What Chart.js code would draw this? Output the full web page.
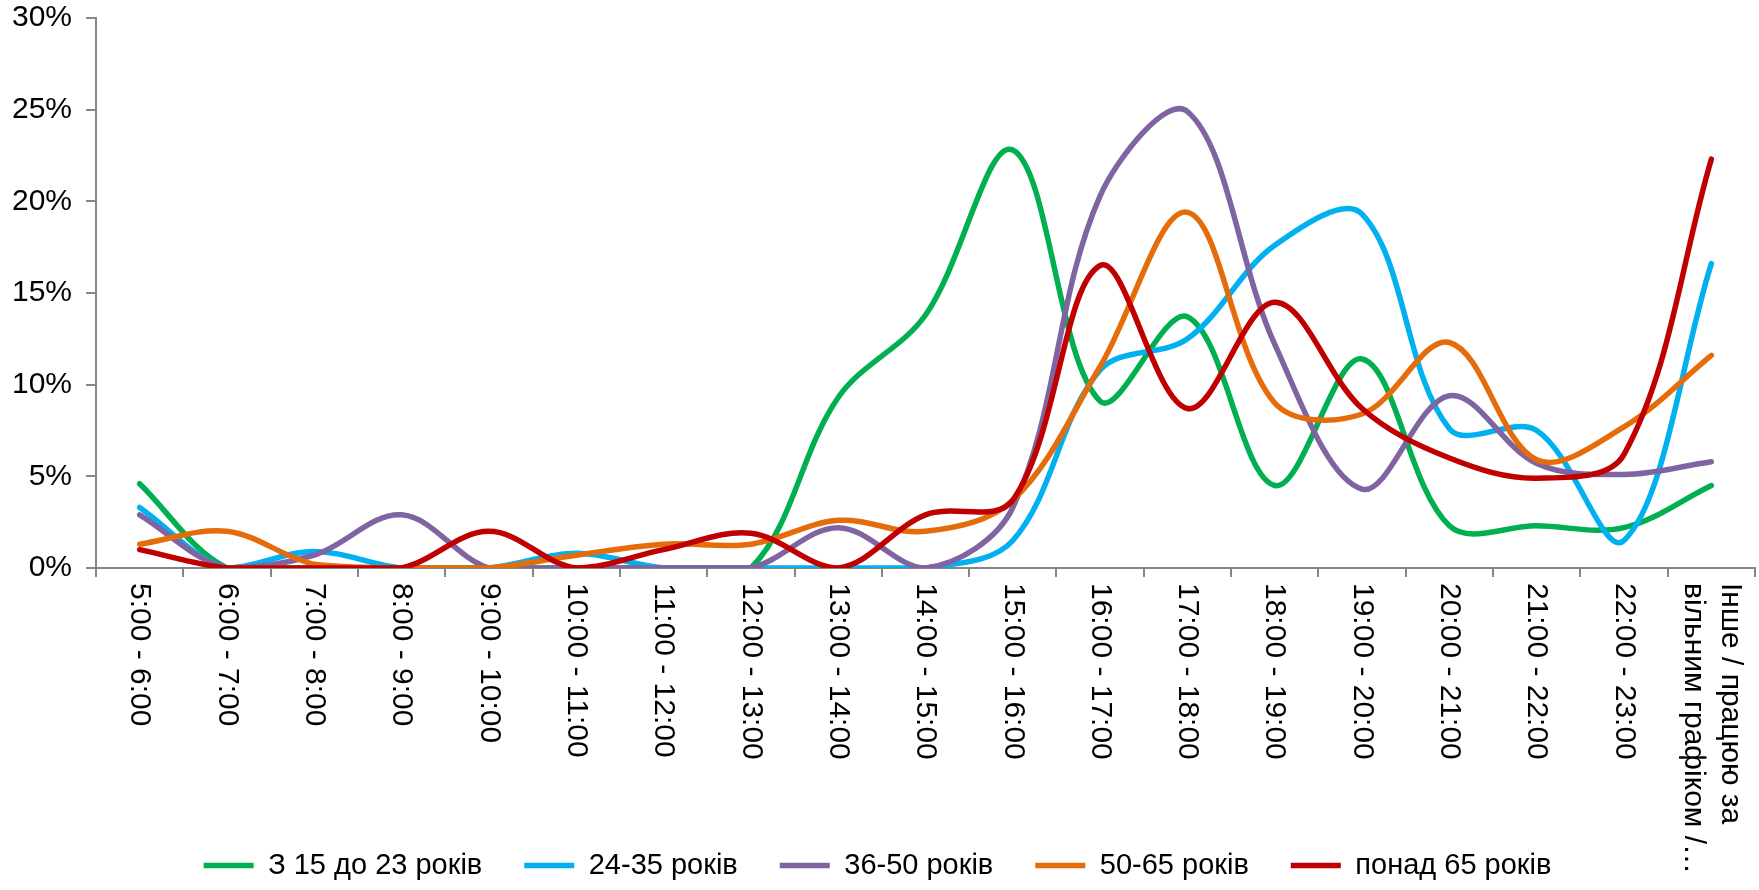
<!DOCTYPE html>
<html>
<head>
<meta charset="utf-8">
<script src="https://cdn.jsdelivr.net/npm/chart.js@4.4.0/dist/chart.umd.min.js"></script>
<style>
  html, body { margin: 0; padding: 0; background: #fff; }
</style>
</head>
<body>
<canvas id="myChart" width="1759" height="890"></canvas>
<script>
const categories = [
    '5:00 - 6:00', '6:00 - 7:00', '7:00 - 8:00', '8:00 - 9:00', '9:00 - 10:00',
    '10:00 - 11:00', '11:00 - 12:00', '12:00 - 13:00', '13:00 - 14:00', '14:00 - 15:00',
    '15:00 - 16:00', '16:00 - 17:00', '17:00 - 18:00', '18:00 - 19:00', '19:00 - 20:00',
    '20:00 - 21:00', '21:00 - 22:00', '22:00 - 23:00',
    ['Інше / працюю за', 'вільним графіком /…']
];
const seriesNames = ['З 15 до 23 років', '24-35 років', '36-50 років', '50-65 років', 'понад 65 років'];
const seriesColors = ['#00B050', '#00B0F0', '#8064A2', '#E46C0A', '#C00000'];

// values in %
const age15to23 = [4.6, 0, 0, 0, 0, 0, 0, 0, 9.3, 13.8, 22.8, 9.1, 13.7, 4.5, 11.4, 2.3, 2.3, 2.2, 4.5];
const age24to35 = [3.3, 0, 0.9, 0, 0, 0.8, 0, 0, 0, 0, 1.5, 10.8, 12.5, 17.6, 19.3, 7.6, 7.5, 1.5, 16.6];
const age36to50 = [2.9, 0, 0.7, 2.9, 0, 0, 0, 0, 2.2, 0, 3.3, 20.3, 24.9, 12.2, 4.3, 9.4, 5.7, 5.1, 5.8];
const age50to65 = [1.3, 2.0, 0.2, 0, 0, 0.7, 1.3, 1.3, 2.6, 2.0, 3.7, 11.0, 19.4, 9.0, 8.4, 12.3, 5.9, 7.7, 11.6];
const age65plus = [1.0, 0, 0, 0, 2.0, 0, 1.0, 1.9, 0, 2.9, 3.7, 16.5, 8.7, 14.5, 8.7, 6.0, 4.9, 6.2, 22.3];

const yTicks = [0, 5, 10, 15, 20, 25, 30];

const allSeries = [age15to23, age24to35, age36to50, age50to65, age65plus];
const axisColor = '#868686';
const fontFamily = '"Liberation Sans", Arial, sans-serif';

// x labels are drawn rotated clockwise (top to bottom), like the original
const verticalLabels = {
    id: 'verticalLabels',
    afterDraw(chart) {
        const xs = chart.scales.x;
        const ctx = chart.ctx;
        ctx.save();
        ctx.font = '30px ' + fontFamily;
        ctx.fillStyle = '#000';
        ctx.textAlign = 'left';
        ctx.textBaseline = 'middle';
        categories.forEach((lab, i) => {
            const lines = Array.isArray(lab) ? lab : [lab];
            const x = xs.getPixelForValue(i);
            ctx.save();
            ctx.translate(x, xs.top + 15);
            ctx.rotate(Math.PI / 2);
            lines.forEach((ln, k) => {
                ctx.fillText(ln, 0, (k - (lines.length - 1) / 2) * 37);
            });
            ctx.restore();
        });
        ctx.restore();
    }
};

const ctx = document.getElementById('myChart').getContext('2d');
new Chart(ctx, {
    type: 'line',
    data: {
        labels: categories,
        datasets: allSeries.map((vals, i) => ({
            label: seriesNames[i],
            data: vals,
            borderColor: seriesColors[i],
            backgroundColor: seriesColors[i],
            borderWidth: 5.5,
            borderCapStyle: 'round',
            borderJoinStyle: 'round',
            pointRadius: 0,
            tension: 0.35,
            fill: false,
            order: allSeries.length - 1 - i   // last series drawn on top
        }))
    },
    options: {
        responsive: false,
        animation: false,
        layout: { padding: { top: 18, right: 4, left: 0, bottom: 0 } },
        plugins: {
            tooltip: { enabled: false },
            legend: {
                position: 'bottom',
                labels: {
                    usePointStyle: true,
                    pointStyle: 'line',
                    pointStyleWidth: 50,
                    padding: 42,
                    color: '#000',
                    font: { family: fontFamily, size: 29 },
                    sort: (a, b) => a.datasetIndex - b.datasetIndex
                }
            }
        },
        scales: {
            x: {
                offset: true,
                grid: {
                    offset: true,
                    drawOnChartArea: false,
                    drawTicks: true,
                    tickLength: 9,
                    color: axisColor,
                    lineWidth: 2
                },
                border: { color: axisColor, width: 2 },
                ticks: { display: false },
                afterFit: (scale) => { scale.height = 241; }
            },
            y: {
                min: 0,
                max: 30,
                afterBuildTicks: (scale) => { scale.ticks = yTicks.map(v => ({ value: v })); },
                grid: {
                    drawOnChartArea: false,
                    drawTicks: true,
                    tickLength: 10,
                    color: axisColor,
                    lineWidth: 2
                },
                border: { color: axisColor, width: 2 },
                ticks: {
                    padding: 14,
                    color: '#000',
                    font: { family: fontFamily, size: 30 },
                    callback: (v) => v + '%'
                },
                afterFit: (scale) => {
                    scale.width = 96;
                    scale.paddingTop = 0;
                    scale.paddingBottom = 0;
                }
            }
        }
    },
    plugins: [verticalLabels]
});
</script>
</body>
</html>
